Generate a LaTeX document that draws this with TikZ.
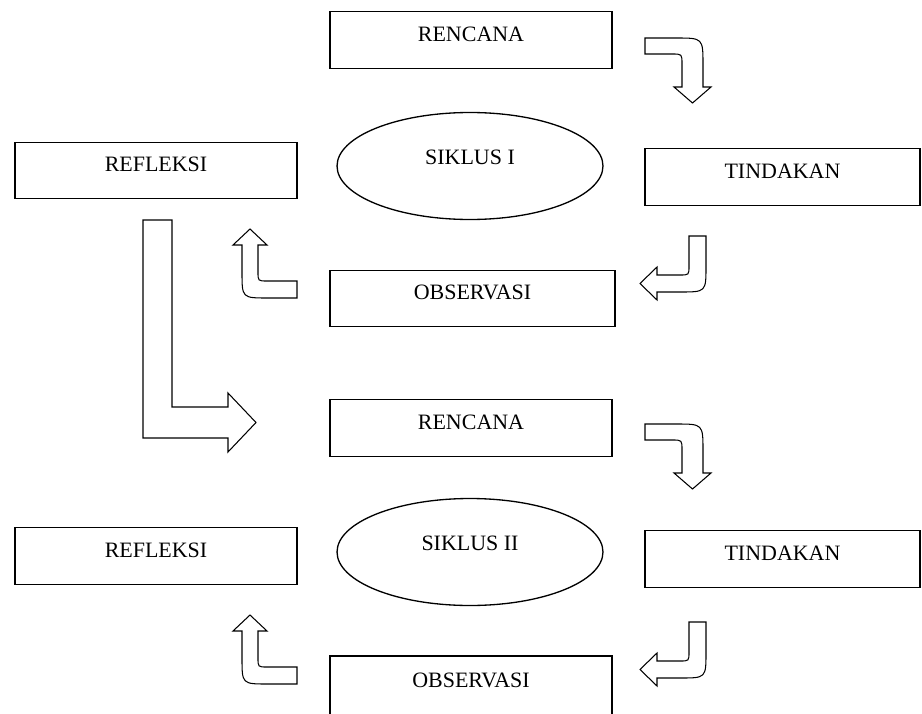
\documentclass[tikz,border=0pt]{standalone}
\usepackage{fontspec}
\setmainfont{Liberation Serif}
\usetikzlibrary{shapes.geometric}

\begin{document}
\begin{tikzpicture}[
    x=0.02cm, y=-0.02cm,
    % Стиль для блоков: прямоугольник с рамкой
    kotak/.style={rectangle, draw, line width=0.75pt, minimum height=1.13cm,
        text depth=0.24cm, font=\fontsize{12.5}{15}\selectfont},
    % Стиль для циклов: эллипс
    siklus/.style={ellipse, draw, line width=0.75pt, minimum width=5.32cm,
        minimum height=2.14cm, text depth=0.36cm, font=\fontsize{12.5}{15}\selectfont},
    % Стиль для широких стрелок: контур
    panah/.style={draw, line width=0.6pt, fill=white, line join=miter}
]

    \clip (0, 0) rectangle (922, 713);

    % --- Блоки первого цикла ---
    \node[kotak, minimum width=5.64cm] (ren1) at (471, 40) {RENCANA};
    \node[kotak, minimum width=5.5cm] (tin1) at (782.5, 177) {TINDAKAN};
    \node[kotak, minimum width=5.64cm] (ref1) at (156, 170.5) {REFLEKSI};
    \node[kotak, minimum width=5.7cm] (obs1) at (472.5, 298.5) {OBSERVASI};
    \node[siklus] (sik1) at (470, 166) {SIKLUS I};

    % --- Блоки второго цикла ---
    \node[kotak, minimum width=5.64cm] (ren2) at (471, 428) {RENCANA};
    \node[kotak, minimum width=5.5cm] (tin2) at (782.5, 559) {TINDAKAN};
    \node[kotak, minimum width=5.64cm] (ref2) at (156, 556) {REFLEKSI};
    \node[kotak, minimum width=5.64cm, minimum height=1.2cm] (obs2) at (471, 686) {OBSERVASI};
    \node[siklus] (sik2) at (470, 552) {SIKLUS II};

    % --- Широкие стрелки (первый цикл, затем сдвиг вниз) ---
    \foreach \dy in {0, 386} {
        \begin{scope}[shift={(0, \dy)}]
            % rencana -> tindakan
            \draw[panah] (645, 38) -- (676, 38) .. controls (703, 38) .. (703, 65)
                -- (703, 87) -- (711, 87) -- (692.5, 103) -- (674, 87) -- (682, 87)
                -- (682, 64) .. controls (682, 54) .. (672, 54) -- (645, 54) -- cycle;
            % tindakan -> observasi
            \draw[panah] (689, 236) -- (706, 236) -- (706, 266) .. controls (706, 292) .. (680, 292)
                -- (657, 292) -- (657, 300) -- (640, 283.5) -- (657, 267) -- (657, 275)
                -- (680, 275) .. controls (689, 275) .. (689, 266) -- cycle;
            % observasi -> refleksi
            \draw[panah] (297, 281) -- (297, 298) -- (268, 298) .. controls (242, 298) .. (242, 272)
                -- (242, 245) -- (233, 245) -- (250, 229) -- (267, 245) -- (258, 245)
                -- (258, 272) .. controls (258, 281) .. (267, 281) -- cycle;
        \end{scope}
    }

    % --- Переход от первого цикла ко второму ---
    \draw[panah] (143, 220) -- (172, 220) -- (172, 407) -- (228, 407) -- (228, 393)
        -- (256, 422.5) -- (228, 452) -- (228, 438) -- (143, 438) -- cycle;

\end{tikzpicture}
\end{document}
